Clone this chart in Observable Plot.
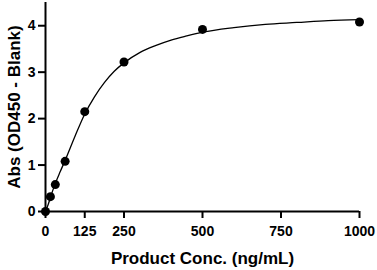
<!DOCTYPE html>
<html>
<head>
<meta charset="utf-8">
<script src="https://cdn.jsdelivr.net/npm/d3@7"></script>
<script src="https://cdn.jsdelivr.net/npm/@observablehq/plot@0.6"></script>
<style>
  html, body { margin: 0; padding: 0; background: #fff; }
  #chart svg { display: block; }
</style>
</head>
<body>
<div id="chart"></div>
<script>
// Measured standards
const conc = [0, 15.625, 31.25, 62.5, 125, 250, 500, 1000];
const absorbance = [0.0, 0.32, 0.58, 1.08, 2.15, 3.22, 3.92, 4.08];

// Fitted curve
const curveConc = [0, 8, 16, 31, 47, 62.5, 94, 125, 156, 188, 219, 250, 300, 350, 400, 450, 500, 600, 700, 800, 900, 1000];
const curveAbs  = [0, 0.14, 0.31, 0.6, 0.86, 1.1, 1.62, 2.1, 2.47, 2.78, 3.02, 3.2, 3.42, 3.57, 3.69, 3.78, 3.86, 3.96, 4.03, 4.07, 4.11, 4.13];

// Axes
const xTicks = [0, 125, 250, 500, 750, 1000];
const yTicks = [0, 1, 2, 3, 4];
const xLabel = "Product Conc. (ng/mL)";
const yLabel = "Abs (OD450 - Blank)";

const points = conc.map((c, i) => ({c, a: absorbance[i]}));
const curve = curveConc.map((c, i) => ({c, a: curveAbs[i]}));

const font = "Liberation Sans, Arial, Helvetica, sans-serif";

const chart = Plot.plot({
  width: 377,
  height: 270,
  marginLeft: 45,
  marginRight: 18,
  marginTop: 2,
  marginBottom: 59,
  style: {fontFamily: font, background: "#fff", color: "#000", overflow: "visible"},
  x: {domain: [0, 1000]},
  y: {domain: [0, 4.5]},
  marks: [
    Plot.axisX({ticks: xTicks, tickFormat: d => String(d), tickSize: 7, tickPadding: 8, strokeWidth: 2, fontSize: 14, fontWeight: "bold",
      label: null}),
    Plot.axisX({ticks: [], label: xLabel, labelAnchor: "center", labelArrow: "none", labelOffset: 52, fontSize: 17, fontWeight: "bold"}),
    Plot.axisY({ticks: yTicks, tickFormat: d => String(d), tickSize: 7, tickPadding: 3, strokeWidth: 2, fontSize: 14, fontWeight: "bold",
      label: null}),
    Plot.axisY({ticks: [], label: yLabel, labelAnchor: "center", labelArrow: "none", labelOffset: 38, fontSize: 17, fontWeight: "bold"}),
    Plot.ruleY([0], {stroke: "#000", strokeWidth: 2}),
    Plot.ruleX([0], {stroke: "#000", strokeWidth: 2}),
    Plot.line(curve, {x: "c", y: "a", curve: "monotone-x", stroke: "#000", strokeWidth: 1.3}),
    Plot.dot(points, {x: "c", y: "a", r: 4.5, fill: "#000", stroke: "none"})
  ]
});
document.getElementById("chart").appendChild(chart);
</script>
</body>
</html>
